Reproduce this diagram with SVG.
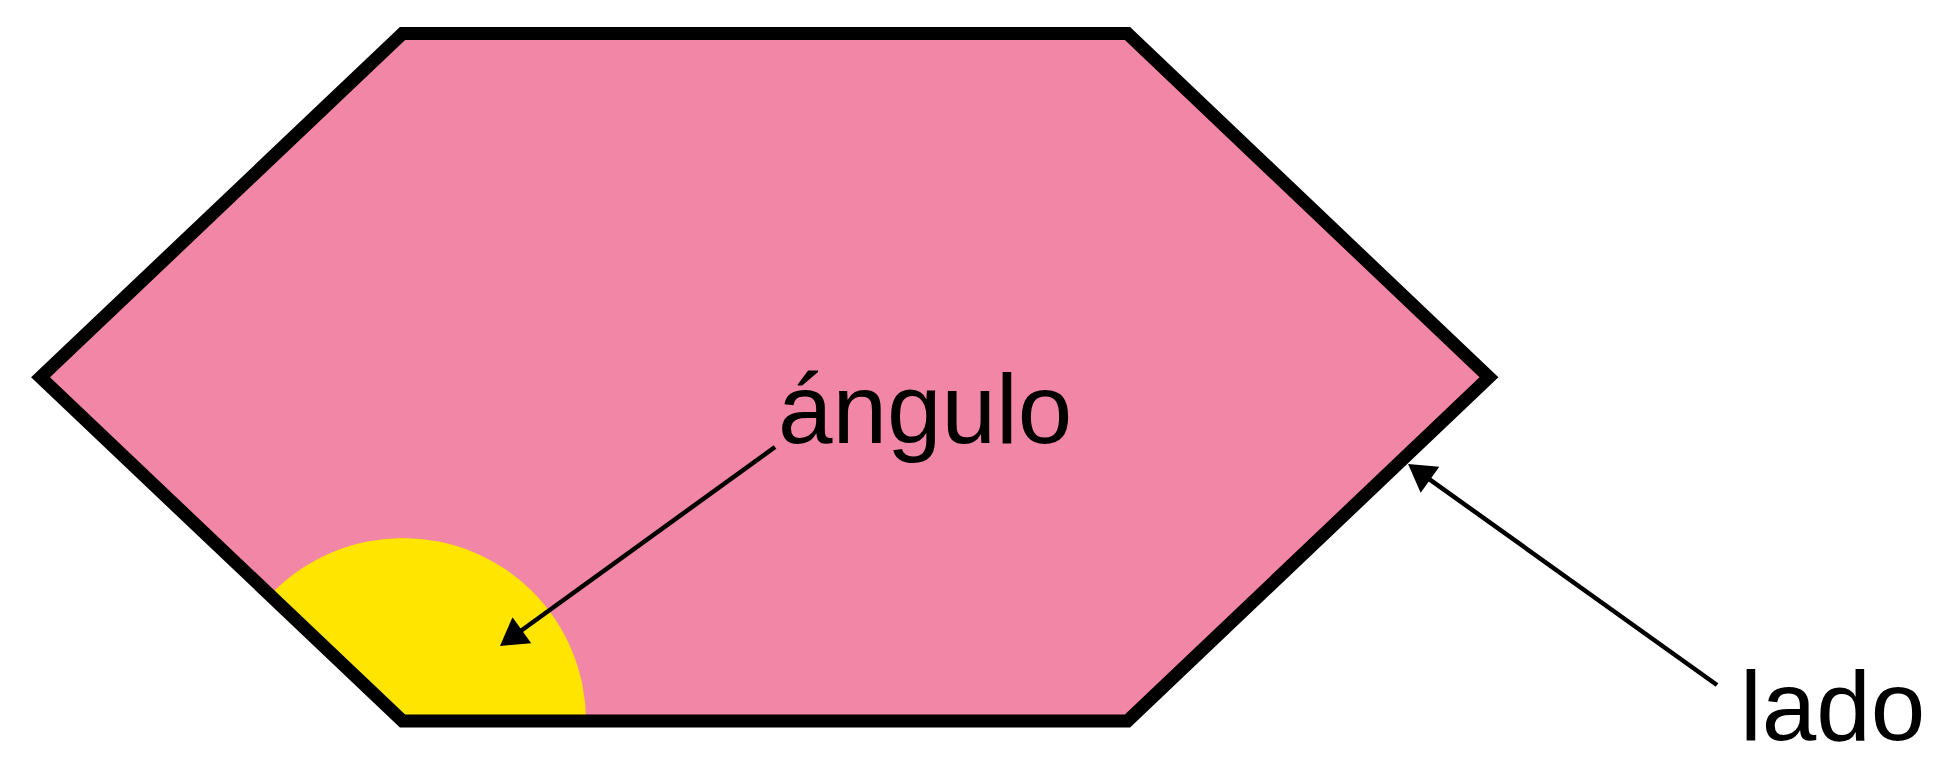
<svg xmlns="http://www.w3.org/2000/svg" width="1942" height="758" viewBox="0 0 1942 758">
  <style>
    .hex { fill: #F286A6; stroke: none; }
    .hex-edge { fill: none; stroke: #000; stroke-width: 13; stroke-linejoin: miter; }
    .angle { fill: #FFE500; }
    .label { font-family: "Liberation Sans", Arial, Helvetica, sans-serif; font-size: 98px; fill: #000; }
    .conn { stroke: #000; stroke-width: 4.5; fill: none; }
  </style>
  <defs>
    <clipPath id="hexClip">
      <polygon points="402.5,33.5 1127.5,33.5 1489,377.3 1127.5,721 402.5,721 40.5,377.3"/>
    </clipPath>
    <marker id="arrow" markerUnits="userSpaceOnUse" markerWidth="40" markerHeight="40" viewBox="-10 -20 40 40" refX="0" refY="0" orient="auto">
      <path d="M20,0 L-7,-16 L-7,16 Z" fill="#000"/>
    </marker>
  </defs>

  <g id="hexagon">
    <polygon class="hex" points="402.5,33.5 1127.5,33.5 1489,377.3 1127.5,721 402.5,721 40.5,377.3"/>
    <circle class="angle" cx="403" cy="721" r="183" clip-path="url(#hexClip)"/>
    <polygon class="hex-edge" points="402.5,33.5 1127.5,33.5 1489,377.3 1127.5,721 402.5,721 40.5,377.3"/>
  </g>

  <g id="label-angulo">
    <text class="label" x="778" y="443">ángulo</text>
  </g>

  <g id="label-lado">
    <text class="label" x="1740" y="740">lado</text>
  </g>

  <g id="connectors">
    <line class="conn" x1="775" y1="447" x2="516.2" y2="634.3" marker-end="url(#arrow)"/>
    <line class="conn" x1="1717" y1="685" x2="1424.3" y2="475.6" marker-end="url(#arrow)"/>
  </g>
</svg>
